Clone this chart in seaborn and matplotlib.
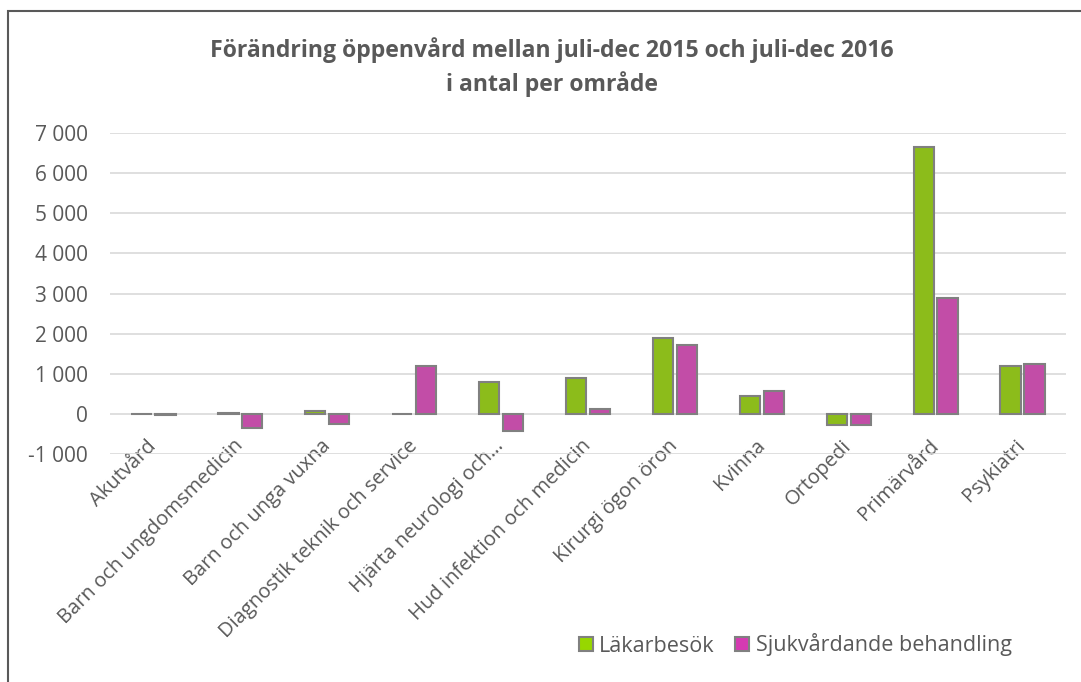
import matplotlib
matplotlib.use("Agg")
import matplotlib.pyplot as plt
from matplotlib.patches import Patch, Rectangle
from matplotlib.ticker import FuncFormatter, FixedLocator
import pandas as pd
import seaborn as sns

# Förändring i antal besök per område, juli-dec 2016 jämfört med juli-dec 2015
categories = [
    "Akutvård",
    "Barn och ungdomsmedicin",
    "Barn och unga vuxna",
    "Diagnostik teknik och service",
    "Hjärta neurologi och…",
    "Hud infektion och medicin",
    "Kirurgi ögon öron",
    "Kvinna",
    "Ortopedi",
    "Primärvård",
    "Psykiatri",
]
lakarbesok = [-15, 20, 60, -15, 790, 905, 1895, 455, -275, 6650, 1205]
sjukvardande = [-25, -355, -260, 1200, -430, 130, 1710, 580, -280, 2900, 1255]
series_names = ["Läkarbesök", "Sjukvårdande behandling"]
y_ticks = [-1000, 0, 1000, 2000, 3000, 4000, 5000, 6000, 7000]

title = "Förändring öppenvård mellan juli-dec 2015 och juli-dec 2016\ni antal per område"

colors = ["#97D700", "#D53AB2"]
text_color = "#595959"
grid_color = "#D9D9D9"
edge_color = "#808080"

df = pd.DataFrame({
    "Område": categories * 2,
    "Serie": [series_names[0]] * len(categories) + [series_names[1]] * len(categories),
    "Antal": lakarbesok + sjukvardande,
})

sns.set_theme(style="white")
plt.rcParams["font.family"] = ["Open Sans", "DejaVu Sans"]

fig = plt.figure(figsize=(10.81, 6.82), dpi=100)
ax = fig.add_axes([110 / 1081, 1 - 454 / 682, (1066 - 110) / 1081, (454 - 133) / 682])

sns.barplot(
    data=df, x="Område", y="Antal", hue="Serie", hue_order=series_names,
    order=categories, palette=colors, width=0.55, gap=0.15,
    edgecolor=edge_color, linewidth=1.5, legend=False, ax=ax, zorder=3,
)

ax.set_ylim(y_ticks[0], y_ticks[-1])
ax.set_xlim(-0.5, len(categories) - 0.5)
ax.yaxis.set_major_locator(FixedLocator(y_ticks))
ax.yaxis.set_major_formatter(FuncFormatter(lambda v, _: f"{int(v):,}".replace(",", " ")))
ax.grid(axis="y", color=grid_color, linewidth=1.2, zorder=0)
ax.set_axisbelow(True)

# Kategoriaxeln korsar värdeaxeln vid 0
for side in ["top", "right", "left"]:
    ax.spines[side].set_visible(False)
ax.spines["bottom"].set_position(("data", 0))
ax.spines["bottom"].set_visible(False)

ax.set_xlabel("")
ax.set_ylabel("")
ax.tick_params(axis="y", length=0, pad=16, labelsize=15, labelcolor=text_color)
ax.tick_params(axis="x", length=0, pad=21, labelsize=14.5, labelcolor=text_color)
for lab in ax.get_xticklabels():
    lab.set_rotation(45)
    lab.set_ha("right")
    lab.set_va("center")
    lab.set_rotation_mode("anchor")

fig.text(552 / 1081, 1 - 67 / 682, title, ha="center", va="center",
         fontsize=16.6, fontweight="bold", color=text_color, linespacing=1.45)

handles = [Patch(facecolor=c, edgecolor=edge_color, linewidth=1.5) for c in colors]
fig.legend(handles, series_names, loc="center left", bbox_to_anchor=(568 / 1081, 1 - 645 / 682),
           ncol=2, frameon=False, fontsize=15.5, labelcolor=text_color, borderpad=0,
           handlelength=0.65, handleheight=0.65, handletextpad=0.3, columnspacing=0.95)

# Ram runt diagramytan
fig.patches.append(Rectangle((8 / 1081, -0.05), 1.1, 1 - 11 / 682 + 0.05,
                             transform=fig.transFigure, fill=False,
                             edgecolor="#595959", linewidth=1.5))

fig.savefig("out.png", dpi=100)
